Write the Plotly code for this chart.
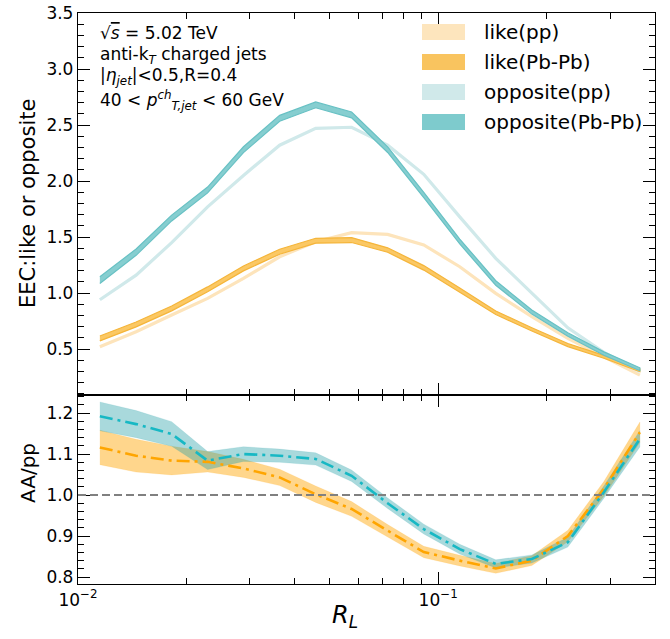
import plotly.graph_objects as go
from plotly.subplots import make_subplots

# ---------------- data ----------------
r_l = [0.0115, 0.0145, 0.0182, 0.0229, 0.0288, 0.0363, 0.0457, 0.0575,
       0.0724, 0.0912, 0.1148, 0.1445, 0.1820, 0.2291, 0.2884, 0.3631]

like_pp = [0.52, 0.655, 0.804, 0.952, 1.131, 1.324, 1.458, 1.539,
           1.524, 1.429, 1.235, 0.997, 0.789, 0.595, 0.431, 0.268]
like_pbpb = [0.595, 0.72, 0.863, 1.033, 1.22, 1.369, 1.467, 1.473,
             1.384, 1.225, 1.027, 0.824, 0.676, 0.536, 0.431, 0.31]
like_pbpb_err = [0.022, 0.022, 0.022, 0.022, 0.022, 0.022, 0.022, 0.022,
                 0.02, 0.02, 0.018, 0.016, 0.015, 0.014, 0.013, 0.012]

opp_pp = [0.94, 1.16, 1.45, 1.77, 2.05, 2.32, 2.47, 2.48,
          2.32, 2.06, 1.68, 1.31, 1.0, 0.69, 0.47, 0.30]
opp_pbpb = [1.116, 1.365, 1.67, 1.92, 2.28, 2.56, 2.68, 2.59,
            2.28, 1.875, 1.46, 1.09, 0.83, 0.63, 0.46, 0.32]
opp_pbpb_err = [0.03, 0.028, 0.026, 0.026, 0.026, 0.026, 0.026, 0.026,
                0.025, 0.024, 0.022, 0.02, 0.018, 0.016, 0.015, 0.013]

ratio_like = [1.116, 1.096, 1.084, 1.081, 1.065, 1.043, 1.002, 0.966,
              0.913, 0.861, 0.840, 0.821, 0.840, 0.900, 1.015, 1.153]
ratio_like_err = [0.042, 0.040, 0.035, 0.025, 0.022, 0.020, 0.020, 0.018,
                  0.015, 0.014, 0.013, 0.012, 0.012, 0.014, 0.018, 0.025]
ratio_opp = [1.192, 1.173, 1.149, 1.084, 1.100, 1.096, 1.088, 1.047,
             0.980, 0.917, 0.868, 0.832, 0.844, 0.885, 1.007, 1.137]
ratio_opp_err = [0.035, 0.033, 0.030, 0.022, 0.018, 0.016, 0.015, 0.014,
                 0.013, 0.012, 0.012, 0.010, 0.010, 0.012, 0.015, 0.020]

legend_labels = ["like(pp)", "like(Pb-Pb)", "opposite(pp)", "opposite(Pb-Pb)"]
legend_colors = ["#fde5bd", "#f9c45f", "#d0e9ea", "#7ecbcd"]

x_tickvals = [0.01, 0.1]
x_ticktext = ["10<sup>\u22122</sup>", "10<sup>\u22121</sup>"]
x_minor = [0.02, 0.03, 0.04, 0.05, 0.06, 0.07, 0.08, 0.09, 0.2, 0.3, 0.4]
top_ticks = [0.5, 1.0, 1.5, 2.0, 2.5, 3.0, 3.5]
bot_ticks = [0.8, 0.9, 1.0, 1.1, 1.2]

# ---------------- figure ----------------
FONT = "DejaVu Sans"
fig = make_subplots(rows=2, cols=1, shared_xaxes=True, vertical_spacing=0,
                    row_heights=[0.669, 0.331])


def band(x, y, e, row, fill, edge, lw=1.0):
    lo = [a - b for a, b in zip(y, e)]
    hi = [a + b for a, b in zip(y, e)]
    fig.add_trace(go.Scatter(x=list(x) + list(x)[::-1], y=hi + lo[::-1],
                             fill="toself", fillcolor=fill, mode="lines",
                             line=dict(color=edge, width=lw),
                             showlegend=False, hoverinfo="skip"),
                  row=row, col=1)


# top panel
fig.add_trace(go.Scatter(x=r_l, y=like_pp, mode="lines",
                         line=dict(color="#fde4bb", width=3.2), showlegend=False),
              row=1, col=1)
fig.add_trace(go.Scatter(x=r_l, y=opp_pp, mode="lines",
                         line=dict(color="#d0e9ea", width=3.2), showlegend=False),
              row=1, col=1)
band(r_l, like_pbpb, like_pbpb_err, 1, "#fbc864", "#f5b53a", 1.2)
band(r_l, opp_pbpb, opp_pbpb_err, 1, "#86ced0", "#68c1c4", 1.2)

# bottom panel
band(r_l, ratio_like, ratio_like_err, 2, "rgba(255,165,0,0.45)", "rgba(255,165,0,0.15)", 0.8)
band(r_l, ratio_opp, ratio_opp_err, 2, "rgba(40,160,167,0.40)", "rgba(40,160,167,0.15)", 0.8)
fig.add_trace(go.Scatter(x=r_l, y=ratio_like, mode="lines",
                         line=dict(color="#ffa500", width=2.6, dash="13px,5px,3px,5px"),
                         showlegend=False), row=2, col=1)
fig.add_trace(go.Scatter(x=r_l, y=ratio_opp, mode="lines",
                         line=dict(color="#17b8c4", width=2.6, dash="13px,5px,3px,5px"),
                         showlegend=False), row=2, col=1)

fig.add_shape(type="line", xref="x2 domain", x0=0, x1=1, yref="y2", y0=1.0, y1=1.0,
              line=dict(color="#808080", width=2, dash="8px,4px"))

axis_common = dict(showline=True, linecolor="black", linewidth=1.3, mirror="allticks",
                   ticks="inside", ticklen=12, tickwidth=1.4, tickcolor="black",
                   showgrid=False, zeroline=False, automargin=False,
                   tickfont=dict(family=FONT, size=17, color="black"))

xrange = [-2, -0.398]
fig.update_xaxes(type="log", range=xrange, tickvals=x_tickvals, ticktext=x_ticktext,
                 minor=dict(tickmode="array", tickvals=x_minor, ticks="inside",
                            ticklen=6, tickwidth=1.2, tickcolor="black"),
                 **axis_common)
fig.update_xaxes(showticklabels=False, row=1, col=1)
fig.update_xaxes(showticklabels=True, row=2, col=1)

fig.update_yaxes(range=[0.09, 3.5], tickvals=top_ticks,
                 ticktext=["%.1f" % v for v in top_ticks],
                 minor=dict(dtick=0.1, tick0=0, ticks="inside", ticklen=6,
                            tickwidth=1.2, tickcolor="black"),
                 row=1, col=1, **axis_common)
fig.update_yaxes(range=[0.783, 1.244], tickvals=bot_ticks,
                 ticktext=["%.1f" % v for v in bot_ticks],
                 minor=dict(dtick=0.02, tick0=0, ticks="inside", ticklen=6,
                            tickwidth=1.2, tickcolor="black"),
                 row=2, col=1, **axis_common)

# geometry helpers (pixel -> paper)
L, R, T, B = 78, 655, 13, 584
W, H = R - L, B - T


def px(x):
    return (x - L) / W


def py(y):
    return (B - y) / H


annotations = []
# info text
info = ["\u221a<span style='text-decoration:overline'><i>s</i></span> = 5.02 TeV",
        "anti-k<sub><i>T</i></sub> charged jets",
        "|<i>\u03b7<sub>jet</sub></i>|<0.5,R=0.4",
        "40 < <i>p</i><sup><i>ch</i></sup><sub><i>T,jet</i></sub> < 60 GeV"]
info_y = [33, 55, 76, 101]
for t, yy in zip(info, info_y):
    annotations.append(dict(text=t, x=px(98), y=py(yy), xref="paper", yref="paper",
                            xanchor="left", yanchor="middle", showarrow=False,
                            font=dict(family=FONT, size=17, color="black")))

# custom legend
leg_y = [32, 62, 92, 122]
shapes = []
for lab, col, yy in zip(legend_labels, legend_colors, leg_y):
    shapes.append(dict(type="rect", xref="paper", yref="paper",
                       x0=px(422), x1=px(465), y0=py(yy + 8), y1=py(yy - 8),
                       fillcolor=col, line=dict(width=0)))
    annotations.append(dict(text=lab, x=px(482), y=py(yy), xref="paper", yref="paper",
                            xanchor="left", yanchor="middle", showarrow=False,
                            font=dict(family=FONT, size=20, color="black")))

# axis titles
annotations.append(dict(text="EEC:like or opposite", x=px(28), y=py(204),
                        xref="paper", yref="paper", textangle=-90, showarrow=False,
                        xanchor="center", yanchor="middle",
                        font=dict(family=FONT, size=21, color="black")))
annotations.append(dict(text="AA/pp", x=px(28), y=py(473),
                        xref="paper", yref="paper", textangle=-90, showarrow=False,
                        xanchor="center", yanchor="middle",
                        font=dict(family=FONT, size=20, color="black")))
annotations.append(dict(text="<i>R</i><sub><i>L</i></sub>", x=px(345), y=py(616),
                        xref="paper", yref="paper", showarrow=False,
                        xanchor="center", yanchor="middle",
                        font=dict(family=FONT, size=24, color="black")))

for s in shapes:
    fig.add_shape(**s)

fig.update_layout(width=670, height=639, plot_bgcolor="white", paper_bgcolor="white",
                  margin=dict(l=L, r=670 - R, t=T, b=639 - B, autoexpand=False),
                  annotations=annotations, showlegend=False)

fig.write_html("out.html", config={"displayModeBar": False},
               post_script="document.body.style.margin='0px';"
                           "document.body.style.padding='0px';"
                           "document.documentElement.style.overflow='hidden';")
